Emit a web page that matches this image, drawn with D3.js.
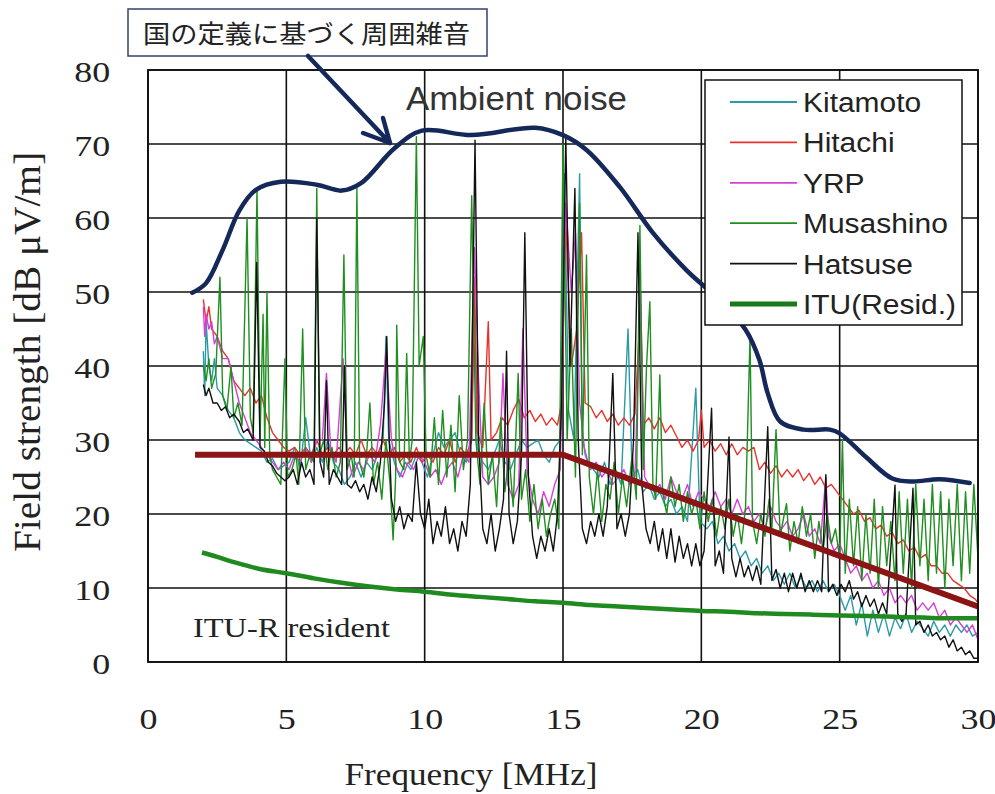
<!DOCTYPE html>
<html><head><meta charset="utf-8">
<script src="https://cdn.jsdelivr.net/npm/d3@7"></script>
<style>html,body{margin:0;padding:0;background:#fff;}svg{display:block;}</style>
</head><body>
<svg id="c" width="995" height="794"></svg>
<script>
// ---------------- data ----------------
const xTicks = [0, 5, 10, 15, 20, 25, 30];
const yTicks = [0, 10, 20, 30, 40, 50, 60, 70, 80];
const seriesNames = ["Kitamoto", "Hitachi", "YRP", "Musashino", "Hatsuse"];
const seriesColors = ["#2b9aa8", "#e8322b", "#d63fd6", "#1f8f1f", "#111111"];

const kitamoto = [[2.0,42],[2.05,36],[2.1,46],[2.2,40],[2.3,38],[2.4,41],[2.5,37],[2.7,36],[2.9,34],[3.1,33],[3.3,31],[3.5,30],[3.7,29.5],[3.9,29],[4.1,28.5],[4.3,27],[4.5,27.5],[4.7,26],[4.9,26.5],[5.1,27],[5.3,29],[5.5,26],[5.7,33],[5.9,27],[6.1,29],[6.3,27],[6.5,30],[6.7,27],[6.9,26],[7.1,24],[7.3,25],[7.5,27],[7.7,25],[7.9,27],[8.1,26],[8.3,28],[8.5,30],[8.6,44],[8.7,30],[8.9,27],[9.1,25],[9.3,27],[9.5,26],[9.7,28],[9.9,27],[10.1,25],[10.3,28],[10.5,31],[10.7,29],[10.9,30],[11.1,31],[11.3,28],[11.5,27],[11.7,30],[11.8,50],[11.9,29],[12.1,27],[12.3,26],[12.5,28],[12.7,30],[12.9,27],[13.1,26],[13.3,28],[13.5,30],[13.7,29],[13.9,29.5],[14.1,30],[14.3,28],[14.5,27],[14.7,29],[14.9,30],[15.05,66],[15.2,34],[15.4,30],[15.6,66],[15.7,30],[15.9,27],[16.1,26],[16.3,25],[16.5,27],[16.7,24],[16.9,26],[17.1,24],[17.35,45],[17.5,25],[17.7,26],[17.9,23],[18.1,24],[18.3,22],[18.5,23],[18.7,21],[18.9,22],[19.1,20],[19.3,21],[19.5,19],[19.8,37],[19.95,19],[20.2,18],[20.4,19],[20.6,16],[20.8,17],[21.0,15],[21.2,16],[21.4,14],[21.6,15],[21.8,13],[22.0,14],[22.2,12],[22.4,13],[22.6,11],[22.8,12],[23.0,10.5],[23.2,12],[23.4,10],[23.6,11.5],[23.8,10],[24.0,11],[24.2,9.5],[24.4,11],[24.6,9.5],[24.8,10.5],[25.0,9],[25.2,7],[25.4,9],[25.6,5],[25.8,8],[26.0,3.5],[26.2,7],[26.4,4],[26.6,6.5],[26.8,3.5],[27.0,6],[27.2,4.5],[27.4,6.5],[27.6,4],[27.8,5.5],[28.0,4.5],[28.2,3.5],[28.4,5.5],[28.6,4],[28.8,5],[29.0,3.5],[29.2,5],[29.4,4],[29.6,5],[29.8,3.5],[30.0,4]];

const hitachi = [[2.0,49],[2.1,46],[2.2,48],[2.3,45],[2.5,44],[2.7,42],[2.9,41],[3.1,38],[3.3,37],[3.5,36],[3.7,37],[3.9,35],[4.1,36],[4.3,33],[4.5,31],[4.7,30],[4.9,29],[5.1,28.5],[5.3,29],[5.5,28],[5.7,29],[5.9,28],[6.1,30],[6.3,28],[6.5,29],[6.7,28],[6.9,29],[7.1,28],[7.3,29],[7.5,28],[7.7,30],[7.9,28],[8.1,29],[8.3,28],[8.5,30],[8.7,28],[8.9,29],[9.1,27],[9.3,28],[9.5,27],[9.7,29],[9.9,27],[10.1,28],[10.3,27],[10.5,29],[10.7,28],[10.9,30],[11.1,27],[11.3,29],[11.5,28],[11.7,30],[11.8,52],[11.9,31],[12.1,29],[12.3,46],[12.4,30],[12.6,31],[12.8,33],[13.0,32],[13.2,34],[13.4,35.5],[13.6,33],[13.8,34],[14.0,32.5],[14.2,33.5],[14.4,32],[14.6,33],[14.8,32],[14.95,35],[15.1,60],[15.3,40],[15.5,45],[15.67,58],[15.8,35],[16.0,34.5],[16.2,33],[16.4,34],[16.6,32.5],[16.8,33.5],[17.0,32],[17.2,33],[17.4,32],[17.6,33.5],[17.8,48],[17.9,32],[18.1,33],[18.3,31.5],[18.5,33],[18.7,31],[18.9,32],[19.1,30.5],[19.3,29],[19.5,30],[19.7,28.5],[19.9,30],[20.0,34],[20.1,29],[20.3,30],[20.5,28.5],[20.7,29.5],[20.9,28],[21.1,29.5],[21.3,28],[21.5,29],[21.7,28.5],[21.9,29],[22.1,26],[22.3,27],[22.5,25.5],[22.7,26.5],[22.9,25],[23.1,26],[23.3,25],[23.5,26],[23.7,24.5],[23.9,25.5],[24.1,24],[24.3,25],[24.5,23.5],[24.7,24],[24.9,23],[25.1,22],[25.3,21],[25.5,20],[25.7,20.5],[25.9,19],[26.1,19.5],[26.3,18],[26.5,18.5],[26.7,17],[26.9,17.5],[27.1,16],[27.3,16.5],[27.5,15],[27.7,15.5],[27.9,14],[28.1,14.5],[28.3,13],[28.5,13],[28.7,12],[28.9,12],[29.1,11],[29.3,10.5],[29.5,10],[29.7,9],[29.9,8.5],[30.0,8]];

const yrp = [[2.0,48],[2.05,44],[2.1,47],[2.2,45],[2.3,46],[2.4,43],[2.5,44],[2.7,41],[2.9,41],[3.1,38],[3.3,35],[3.5,33],[3.7,31],[3.9,30],[4.1,29],[4.3,28],[4.5,27],[4.7,26],[4.9,27],[5.1,26],[5.3,28],[5.5,27],[5.7,29],[5.9,27],[6.1,30],[6.3,30],[6.45,39],[6.6,29],[6.8,27],[7.05,41],[7.2,28],[7.4,25],[7.6,27],[7.8,26],[8.0,28],[8.2,27],[8.4,32],[8.6,42],[8.8,30],[9.0,26],[9.2,25],[9.4,27],[9.6,26],[9.8,28],[10.0,27],[10.2,25],[10.4,26],[10.6,24],[10.8,26],[11.0,27],[11.2,25],[11.4,28],[11.6,27],[11.8,56],[11.95,38],[12.1,25],[12.3,24],[12.5,25],[12.7,27],[12.83,39],[13.0,24],[13.2,22],[13.4,24],[13.55,45],[13.7,26],[13.9,22],[14.1,20],[14.3,23],[14.5,21],[14.7,24],[14.9,26],[15.1,62],[15.3,50],[15.45,58],[15.6,35],[15.8,28],[16.0,26],[16.2,27],[16.4,25],[16.6,26],[16.8,24],[17.0,25],[17.2,26],[17.4,24],[17.6,25],[17.8,50],[17.95,25],[18.1,24],[18.3,23],[18.5,24],[18.7,22],[18.9,25],[19.1,23],[19.3,22],[19.5,24],[19.7,21],[19.9,23],[20.1,22],[20.3,21],[20.5,23],[20.7,21],[20.9,22],[21.1,20],[21.3,22],[21.5,20],[21.7,21],[21.9,19],[22.1,20],[22.3,18],[22.5,21],[22.7,19],[22.9,18],[23.1,19],[23.3,17],[23.5,18],[23.7,20],[23.9,17],[24.1,18],[24.3,16],[24.5,25],[24.6,17],[24.8,15],[25.0,16],[25.2,14],[25.4,12],[25.6,13],[25.8,11],[26.0,12],[26.2,10],[26.4,11],[26.6,9],[26.8,10],[27.0,8],[27.2,9],[27.4,8],[27.6,9],[27.8,7],[28.0,8],[28.2,7],[28.4,8],[28.6,6],[28.8,7],[29.0,5],[29.2,6],[29.4,5],[29.6,4],[29.8,5],[30.0,3]];

const musashino = [[2.0,40],[2.1,38],[2.2,41],[2.3,37],[2.45,39],[2.6,52],[2.7,36],[2.85,34],[3.0,40],[3.1,33],[3.25,35],[3.4,32],[3.58,60],[3.7,33],[3.8,31],[3.94,64],[4.05,30],[4.16,47],[4.22,29],[4.3,50],[4.4,28],[4.5,26],[4.65,25],[4.8,24],[4.95,41],[5.05,25],[5.2,26],[5.35,28],[5.45,24],[5.59,45],[5.7,26],[5.85,28],[6.0,27],[6.1,64],[6.2,28],[6.35,30],[6.5,26],[6.65,29],[6.8,25],[6.95,27],[7.08,55],[7.2,26],[7.35,28],[7.45,25],[7.55,64],[7.65,27],[7.8,25],[7.9,28],[8.02,35],[8.15,24],[8.3,27],[8.45,22],[8.6,30],[8.75,24],[8.86,16.5],[8.95,25],[8.99,45.5],[9.1,27],[9.25,26],[9.35,41.7],[9.45,27],[9.55,30],[9.7,71],[9.8,40],[9.95,44],[10.05,28],[10.2,25],[10.35,33],[10.5,24],[10.65,34],[10.8,25],[10.95,32],[11.1,23],[11.25,36],[11.4,26],[11.55,30],[11.7,63],[11.85,30],[12.0,24],[12.15,35],[12.3,24],[12.45,28],[12.6,21],[12.75,33],[12.9,23],[13.05,28],[13.2,21],[13.38,39],[13.5,22],[13.65,26],[13.8,19],[13.95,24],[14.1,18],[14.25,22],[14.4,17],[14.55,20],[14.7,22],[14.85,18],[15.0,70],[15.15,30],[15.3,45],[15.45,25],[15.6,62],[15.7,28],[15.85,55],[15.95,25],[16.1,20],[16.25,26],[16.4,19],[16.55,24],[16.7,22],[16.85,27],[17.0,20],[17.15,25],[17.3,21],[17.5,28],[17.65,22],[17.78,59],[17.9,26],[18.02,40],[18.14,48.7],[18.25,24],[18.35,22],[18.5,38.8],[18.6,23],[18.75,20],[18.9,25],[19.05,21],[19.2,24],[19.35,19],[19.5,23],[19.65,20],[19.8,22],[19.95,18],[20.1,23],[20.25,19],[20.4,22],[20.55,17],[20.7,21],[20.85,18],[21.0,22],[21.15,17],[21.3,20],[21.45,16],[21.6,21],[21.76,44],[21.85,19],[22.0,16],[22.15,20],[22.3,17],[22.45,22],[22.55,18],[22.7,31.4],[22.85,17],[23.0,20],[23.08,21.4],[23.2,15],[23.35,19],[23.5,16],[23.65,21],[23.8,17],[23.95,20],[24.1,14],[24.25,19],[24.4,15],[24.55,20],[24.7,16],[24.85,18],[25.0,14],[25.1,30],[25.2,12],[25.35,22],[25.5,13],[25.65,21],[25.8,11],[25.95,20],[26.1,12],[26.25,22],[26.4,10],[26.55,21],[26.7,13],[26.85,19],[27.0,11],[27.15,23],[27.3,12],[27.45,22],[27.6,10],[27.75,24],[27.9,13],[28.05,22],[28.2,11],[28.35,24],[28.5,12],[28.65,23],[28.8,10],[28.95,22],[29.1,13],[29.25,24],[29.4,11],[29.55,23],[29.7,12],[29.85,24],[30.0,14]];

const hatsuse = [[2.0,37.5],[2.1,36],[2.2,37],[2.35,35],[2.5,35],[2.65,34],[2.8,34.5],[2.95,33],[3.1,33.5],[3.3,32.5],[3.45,31],[3.6,31.5],[3.8,30],[3.93,54],[4.05,29],[4.2,28.5],[4.35,27],[4.5,26.5],[4.65,25.5],[4.8,25],[4.95,24.5],[5.1,25],[5.25,26],[5.4,24],[5.55,27],[5.7,25],[5.85,26],[6.0,24],[6.1,60],[6.22,27],[6.35,25],[6.45,38],[6.55,24],[6.7,26],[6.85,25],[7.0,24],[7.1,40],[7.2,24],[7.35,23.5],[7.5,24.5],[7.65,23],[7.8,24],[7.95,22],[8.1,25],[8.25,23],[8.4,27],[8.55,35],[8.63,44],[8.72,30],[8.8,22],[8.95,19],[9.1,21],[9.25,18],[9.4,20],[9.55,19],[9.7,27],[9.85,20],[10.0,18],[10.15,22],[10.3,16],[10.45,19],[10.6,17],[10.75,21],[10.9,16],[11.05,18],[11.2,15],[11.35,19],[11.5,17],[11.65,24],[11.82,70.5],[11.95,30],[12.1,18],[12.25,16],[12.4,20],[12.55,15],[12.7,18],[12.85,22],[12.96,42],[13.05,20],[13.2,16],[13.35,19],[13.5,28],[13.62,58],[13.75,25],[13.9,17],[14.05,14],[14.2,17],[14.35,15],[14.5,18],[14.65,15],[14.8,20],[14.95,35],[15.1,71],[15.25,40],[15.43,64],[15.55,30],[15.7,18],[15.85,16],[16.0,19],[16.15,17],[16.3,20],[16.45,17],[16.6,21],[16.8,39],[16.95,18],[17.1,20],[17.25,17],[17.4,20],[17.55,30],[17.71,58],[17.85,24],[18.0,18],[18.15,16],[18.3,19],[18.45,15],[18.6,18],[18.75,14],[18.9,18],[19.05,13.5],[19.2,17],[19.35,14],[19.5,16],[19.65,13],[19.8,16],[19.95,13],[20.1,15],[20.37,34.3],[20.5,13],[20.65,15],[20.8,12],[21.0,30.4],[21.1,14],[21.25,11.5],[21.4,14],[21.55,11.5],[21.7,13],[21.85,11],[22.0,13],[22.15,10.5],[22.4,31.8],[22.55,11],[22.7,12.5],[22.85,10],[23.0,12],[23.15,9.5],[23.3,12],[23.45,10],[23.6,12],[23.75,9.5],[23.9,11],[24.05,9.5],[24.2,11],[24.35,9.5],[24.5,25.3],[24.6,9.5],[24.75,10.5],[24.9,9],[25.05,10.5],[25.2,9.5],[25.35,11],[25.5,8.5],[25.65,9.5],[25.8,7.5],[25.95,9],[26.1,7.5],[26.25,8.5],[26.4,6.5],[26.55,8],[26.7,6.5],[27.0,23.9],[27.1,6.5],[27.25,5.5],[27.4,6.5],[27.65,23.5],[27.75,5],[27.9,5.5],[28.05,4],[28.2,5],[28.35,3.5],[28.5,4],[28.65,3],[28.8,3.5],[28.95,2],[29.1,3],[29.25,1.5],[29.4,2],[29.55,1],[29.7,1.5],[29.85,0.5],[30.0,0.5]];

const ituResid = [[1.95,14.8],[2.5,14.2],[3,13.6],[3.5,13.1],[4,12.6],[5,12.0],[6,11.3],[7,10.7],[8,10.2],[9,9.8],[10,9.5],[11,9.1],[12,8.8],[13,8.5],[14,8.2],[15,8.0],[16,7.7],[17,7.5],[18,7.3],[19,7.1],[20,6.9],[21,6.8],[22,6.6],[23,6.5],[24,6.4],[25,6.3],[26,6.2],[27,6.1],[28,6.0],[29,5.9],[30,5.9]];

const limitLine = [[1.7,28],[15,28],[30,7.5]];

const ambient = [[1.6,49.9],[2.1,51.2],[2.7,55.7],[3.3,61],[3.9,63.8],[4.8,64.9],[6.1,64.5],[7.0,63.7],[7.7,64.7],[8.9,69.4],[9.9,71.8],[11.7,71.2],[14.0,72.2],[15.0,71.2],[15.85,69.2],[17.05,64.2],[18.25,58],[19.45,53],[20.65,48.9],[21.6,44.9],[22.1,40.8],[22.4,36.3],[22.85,32.5],[23.7,31.4],[24.65,31.4],[25.0,30.9],[25.95,27.7],[26.9,24.8],[27.65,24.4],[28.6,24.7],[29.7,24.2]];

const legendLabels = ["Kitamoto", "Hitachi", "YRP", "Musashino", "Hatsuse", "ITU(Resid.)"];

// ---------------- drawing ----------------
const svg = d3.select("#c");
const x = d3.scaleLinear().domain([0, 30]).range([148, 978]);
const y = d3.scaleLinear().domain([0, 80]).range([662, 70]);

svg.append("rect").attr("width", 995).attr("height", 794).attr("fill", "#fff");

// grid
const grid = svg.append("g");
grid.selectAll("line.gx").data(xTicks).join("line").attr("class", "gx")
  .attr("x1", d => x(d)).attr("x2", d => x(d)).attr("y1", y(0)).attr("y2", y(80))
  .attr("stroke", "#111").attr("stroke-width", 1.6);
grid.selectAll("line.gy").data(yTicks).join("line").attr("class", "gy")
  .attr("x1", x(0)).attr("x2", x(30)).attr("y1", d => y(d)).attr("y2", d => y(d))
  .attr("stroke", "#111").attr("stroke-width", 1.6);

// measured series
const series = [kitamoto, hitachi, yrp, musashino, hatsuse];
const line = d3.line().x(d => x(d[0])).y(d => y(d[1]));
svg.append("g").selectAll("path").data(series).join("path")
  .attr("d", line).attr("fill", "none")
  .attr("stroke", (d, i) => seriesColors[i]).attr("stroke-width", 1.4)
  .attr("stroke-linejoin", "round");

// ITU residential
svg.append("path").datum(ituResid)
  .attr("d", d3.line().x(d => x(d[0])).y(d => y(d[1])).curve(d3.curveMonotoneX))
  .attr("fill", "none").attr("stroke", "#1f8a1f").attr("stroke-width", 4.5);

// limit line
svg.append("path").datum(limitLine)
  .attr("d", line).attr("fill", "none").attr("stroke", "#8b1414").attr("stroke-width", 6);

// ambient noise
svg.append("path").datum(ambient)
  .attr("d", d3.line().x(d => x(d[0])).y(d => y(d[1])).curve(d3.curveCatmullRom.alpha(0.5)))
  .attr("fill", "none").attr("stroke", "#14285a").attr("stroke-width", 4.5)
  .attr("stroke-linecap", "round");

// frame
svg.append("rect").attr("x", x(0)).attr("y", y(80)).attr("width", x(30) - x(0)).attr("height", y(0) - y(80))
  .attr("fill", "none").attr("stroke", "#111").attr("stroke-width", 1.8);

// axes
const xAxis = svg.append("g").attr("transform", `translate(0,${y(0)})`)
  .call(d3.axisBottom(x).tickValues(xTicks).tickSize(0).tickFormat(d3.format("d")));
xAxis.select(".domain").remove();
xAxis.selectAll("text").attr("y", 67).attr("dy", 0)
  .attr("font-family", "'Liberation Serif', serif").attr("font-size", 30).attr("fill", "#222")
  .attr("transform", "scale(1.2,1)");

const yAxis = svg.append("g").attr("transform", `translate(${x(0)},0)`)
  .call(d3.axisLeft(y).tickValues(yTicks).tickSize(0).tickFormat(d3.format("d")));
yAxis.select(".domain").remove();
yAxis.selectAll("text").attr("x", -31.5).attr("dy", "0.38em")
  .attr("font-family", "'Liberation Serif', serif").attr("font-size", 30).attr("fill", "#222")
  .attr("transform", "scale(1.2,1)");

// axis titles
svg.append("text").attr("x", 471).attr("y", 785).attr("text-anchor", "middle")
  .attr("font-family", "'Liberation Serif', serif").attr("font-size", 31).attr("fill", "#222")
  .attr("textLength", 253).attr("lengthAdjust", "spacingAndGlyphs")
  .text("Frequency [MHz]");
svg.append("text").attr("transform", "translate(40,352) scale(1.15,1) rotate(-90)")
  .attr("text-anchor", "middle")
  .attr("font-family", "'Liberation Serif', serif").attr("font-size", 33).attr("fill", "#222")
  .attr("textLength", 400).attr("lengthAdjust", "spacingAndGlyphs")
  .text("Field strength [dB \u03bcV/m]");

// annotations
svg.append("text").attr("x", 406).attr("y", 110)
  .attr("font-family", "'Liberation Sans', Arial, sans-serif").attr("font-size", 34).attr("fill", "#333")
  .attr("textLength", 221).attr("lengthAdjust", "spacingAndGlyphs")
  .text("Ambient noise");
svg.append("text").attr("x", 193).attr("y", 637)
  .attr("font-family", "'Liberation Serif', serif").attr("font-size", 27).attr("fill", "#222")
  .attr("textLength", 197).attr("lengthAdjust", "spacingAndGlyphs")
  .text("ITU-R resident");

// callout
svg.append("rect").attr("x", 128).attr("y", 9).attr("width", 359).attr("height", 47)
  .attr("fill", "#fff").attr("stroke", "#34426e").attr("stroke-width", 1.5);
svg.append("text").attr("x", 143).attr("y", 43)
  .attr("font-family", "'Noto Sans CJK JP', sans-serif").attr("font-size", 25).attr("fill", "#222")
  .attr("textLength", 327).attr("lengthAdjust", "spacingAndGlyphs")
  .text("国の定義に基づく周囲雑音");
svg.append("path").attr("d", "M308,56 L390,143 M363,133 L390,143 L383,118")
  .attr("fill", "none").attr("stroke", "#14285a").attr("stroke-width", 4.5)
  .attr("stroke-linecap", "round").attr("stroke-linejoin", "round");

// legend
const lg = svg.append("g");
lg.append("rect").attr("x", 705).attr("y", 80).attr("width", 257).attr("height", 245)
  .attr("fill", "#fff").attr("stroke", "#111").attr("stroke-width", 1.5);
const legColors = seriesColors.concat(["#1a7a1a"]);
const legWidths = [1.8, 1.8, 1.8, 1.8, 1.8, 5];
const rows = lg.selectAll("g.row").data(legendLabels).join("g").attr("class", "row")
  .attr("transform", (d, i) => `translate(0,${102 + i * 40.4})`);
rows.append("line").attr("x1", 730).attr("x2", 797).attr("y1", 0).attr("y2", 0)
  .attr("stroke", (d, i) => legColors[i]).attr("stroke-width", (d, i) => legWidths[i]);
rows.append("text").attr("x", 803).attr("y", 10)
  .attr("font-family", "'Liberation Sans', Arial, sans-serif").attr("font-size", 28).attr("fill", "#222")
  .attr("transform", "translate(803,0) scale(1.07,1) translate(-803,0)")
  .text(d => d);
</script>
</body></html>
